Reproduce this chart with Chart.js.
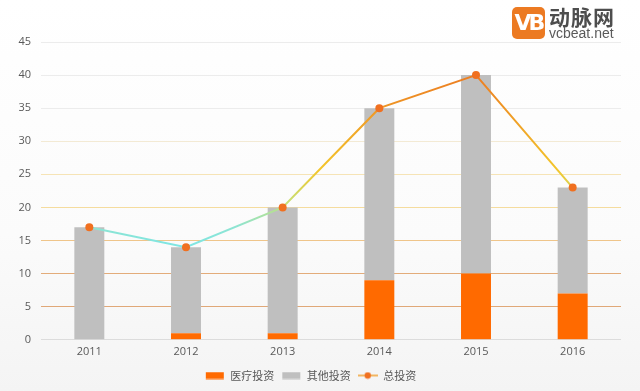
<!DOCTYPE html>
<html>
<head>
<meta charset="utf-8">
<script src="https://cdn.jsdelivr.net/npm/chart.js@4"></script>
<style>
  html, body { margin: 0; padding: 0; }
  body {
    width: 640px; height: 391px; overflow: hidden; position: relative;
    background: linear-gradient(#ffffff 0%, #fbfbfb 60%, #f4f4f4 100%);
    font-family: "Noto Sans CJK SC", "Open Sans", sans-serif;
  }
  #wrap { position: absolute; left: 0; top: 0; width: 640px; height: 391px; }
  .logo { position: absolute; left: 512px; top: 6px; }
  .logo .vb {
    position: absolute; left: 0; top: 1px; width: 33px; height: 32px;
    background: #ec7a22; border-radius: 5px; color: #fff;
    font: bold 22px "DejaVu Sans", sans-serif; letter-spacing: -3px;
    text-align: center; line-height: 32px;
  }
  .logo .cn {
    position: absolute; left: 37px; top: -5px; white-space: nowrap;
    font: bold 21px "Noto Sans CJK SC", sans-serif; color: #4d4d4d; letter-spacing: 1px;
  }
  .logo .en {
    position: absolute; left: 37px; top: 19px; white-space: nowrap;
    font: 14px "Liberation Sans", Arial, sans-serif; color: #5a5a5a;
  }
</style>
</head>
<body>
<div id="wrap"><canvas id="investChart" width="640" height="391"></canvas></div>
<div class="logo">
  <div class="vb">VB</div>
  <div class="cn">动脉网</div>
  <div class="en">vcbeat.net</div>
</div>
<script>
const years = ['2011', '2012', '2013', '2014', '2015', '2016'];
const medical = [0, 1, 1, 9, 10, 7];
const other = [17, 13, 19, 26, 30, 16];
const total = [17, 14, 20, 35, 40, 23];
const yTicks = [0, 5, 10, 15, 20, 25, 30, 35, 40, 45];

// gridline colours go from orange near the bottom to grey at the top
const gridColors = {
  0: '#dcdcdc', 5: '#e0a878', 10: '#e3ac7a', 15: '#efc58a', 20: '#f5dc9e',
  25: '#f6e4b6', 30: '#f3ead4', 35: '#ececec', 40: '#ececec', 45: '#ececec'
};

function lineGradient(context) {
  const chart = context.chart;
  if (!chart.chartArea) return '#f0a030';
  const y = chart.scales.y;
  const g = chart.ctx.createLinearGradient(0, y.getPixelForValue(14), 0, y.getPixelForValue(40));
  g.addColorStop(0, '#7ee6e4');
  g.addColorStop(0.12, '#8ee4d2');
  g.addColorStop(0.25, '#c4e07a');
  g.addColorStop(0.45, '#f3c62c');
  g.addColorStop(1, '#ec7d22');
  return g;
}

function legendIcon(kind) {
  const c = document.createElement('canvas');
  c.width = 20; c.height = 8;
  const x = c.getContext('2d');
  if (kind === 'line') {
    x.strokeStyle = '#f0a030'; x.lineWidth = 1.5;
    x.beginPath(); x.moveTo(0, 4); x.lineTo(20, 4); x.stroke();
    x.fillStyle = '#f07020';
    x.beginPath(); x.arc(10, 4, 3.2, 0, Math.PI * 2); x.fill();
  } else {
    x.fillStyle = kind;
    x.fillRect(1, 0.5, 18, 7);
  }
  return c;
}

const icons = [legendIcon('line'), legendIcon('#ff6a00'), legendIcon('#bfbfbf')];

const ctx = document.getElementById('investChart').getContext('2d');
new Chart(ctx, {
  data: {
    labels: years,
    datasets: [{
      type: 'line',
      label: '总投资',
      data: total,
      borderColor: lineGradient,
      borderWidth: 2,
      pointRadius: 4,
      pointBackgroundColor: '#f07020',
      pointBorderWidth: 0,
      order: 0
    }, {
      type: 'bar',
      label: '医疗投资',
      data: medical,
      backgroundColor: '#ff6a00',
      barPercentage: 0.62,
      categoryPercentage: 0.5,
      order: 1
    }, {
      type: 'bar',
      label: '其他投资',
      data: other,
      backgroundColor: '#bfbfbf',
      barPercentage: 0.62,
      categoryPercentage: 0.5,
      order: 2
    }]
  },
  options: {
    responsive: false,
    animation: false,
    layout: { padding: { top: 42, right: 19, left: 0, bottom: 0 } },
    plugins: {
      tooltip: { enabled: false },
      legend: {
        position: 'bottom',
        labels: {
          usePointStyle: true,
          pointStyleWidth: 20,
          boxHeight: 8,
          padding: 7,
          color: '#595959',
          font: { family: '"Noto Sans CJK SC", sans-serif', size: 11 },
          generateLabels: chart => [1, 2, 0].map(i => ({
            text: chart.data.datasets[i].label,
            datasetIndex: i,
            pointStyle: icons[i],
            fontColor: '#595959',
            lineWidth: 0,
            hidden: false
          }))
        }
      }
    },
    scales: {
      x: {
        stacked: true,
        grid: { display: false, drawTicks: false },
        border: { display: false },
        ticks: { color: '#595959', padding: 5, font: { family: '"Open Sans", sans-serif', size: 11 } }
      },
      y: {
        stacked: true,
        min: 0,
        max: 45,
        afterFit: s => { s.width = 41; },
        afterBuildTicks: s => { s.ticks = yTicks.map(v => ({ value: v })); },
        border: { display: false },
        grid: {
          drawTicks: false,
          color: c => gridColors[c.tick.value] || '#ececec'
        },
        ticks: { color: '#595959', padding: 10, font: { family: '"Open Sans", sans-serif', size: 11 } }
      }
    }
  }
});
</script>
</body>
</html>
